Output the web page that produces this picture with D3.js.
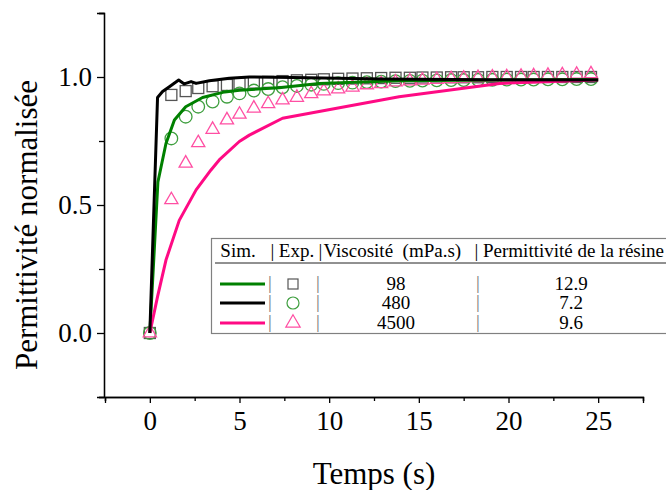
<!DOCTYPE html>
<html>
<head>
<meta charset="utf-8">
<script src="https://cdn.jsdelivr.net/npm/d3@7"></script>
<style>
  body { margin: 0; background: #fff; }
  svg text { font-family: "Liberation Serif", "Times New Roman", "DejaVu Serif", serif; }
</style>
</head>
<body>
<div id="chart"></div>
<script>
const width = 666, height = 490;
const serif = 'Liberation Serif, Times New Roman, DejaVu Serif, serif';

// experimental points (same time base for the three series)
const expTime = [0, 1.2, 2.0, 2.7, 3.5, 4.3, 5.0, 5.8, 6.6, 7.4, 8.2, 9.0, 9.7, 10.5, 11.3, 12.1, 12.9, 13.7, 14.5, 15.2, 16.0, 16.8, 17.5, 18.3, 19.1, 19.9, 20.7, 21.4, 22.2, 23.0, 23.8, 24.6];
const expSquare = [0, 0.93, 0.945, 0.957, 0.964, 0.969, 0.975, 0.978, 0.981, 0.984, 0.987, 0.989, 0.991, 0.993, 0.994, 0.995, 0.996, 0.997, 0.997, 0.998, 0.998, 0.999, 0.999, 0.999, 1.0, 1.0, 1.0, 1.0, 1.0, 1.0, 1.0, 1.0];
const expCircle = [0, 0.76, 0.845, 0.884, 0.904, 0.923, 0.936, 0.947, 0.953, 0.96, 0.965, 0.97, 0.973, 0.976, 0.978, 0.98, 0.982, 0.984, 0.985, 0.986, 0.987, 0.988, 0.988, 0.989, 0.989, 0.99, 0.99, 0.99, 0.991, 0.991, 0.992, 0.992];
const expTriangle = [0, 0.52, 0.663, 0.743, 0.795, 0.832, 0.854, 0.878, 0.895, 0.91, 0.92, 0.934, 0.945, 0.953, 0.96, 0.969, 0.973, 0.98, 0.984, 0.987, 0.99, 0.993, 0.995, 0.997, 0.999, 1.0, 1.002, 1.004, 1.006, 1.008, 1.01, 1.012];

// simulation curves
const simGreenT = [0, 0.45, 0.9, 1.37, 2.0, 2.94, 4.06, 5.0, 7.2, 9.45, 13.9, 19.5, 25];
const simGreenY = [0, 0.59, 0.74, 0.832, 0.884, 0.92, 0.94, 0.948, 0.958, 0.975, 0.985, 0.988, 0.99];
const simBlackT = [0, 0.43, 0.71, 1.09, 1.61, 1.92, 2.3, 2.58, 3.32, 4.43, 5.55, 8, 13, 19, 25];
const simBlackY = [0, 0.92, 0.943, 0.962, 0.988, 0.973, 0.982, 0.975, 0.985, 0.995, 1.0, 0.998, 0.992, 0.989, 0.988];
const simPinkT = [0, 0.43, 0.9, 1.64, 2.58, 3.41, 3.87, 4.99, 5.55, 7.4, 13.9, 19.5, 25];
const simPinkY = [0, 0.142, 0.285, 0.44, 0.559, 0.637, 0.676, 0.748, 0.773, 0.839, 0.923, 0.975, 0.988];

const xTicks = [0, 5, 10, 15, 20, 25];
const yTicks = [0, 0.5, 1.0];

// legend table
const legendHeader = ["Sim.", "|", "Exp.", "|", "Viscosité  (mPa.s)", "|", "Permittivité de la résine"];
const viscosity = ["98", "480", "4500"];
const permittivity = ["12.9", "7.2", "9.6"];

const green = "#008000", pink = "#ff0a84";
const lineColors = [green, "#000000", pink];
const markerColors = ["#555555", "#3f9f3f", "#ff4fa3"];

const svg = d3.select('#chart')
    .append('svg')
    .attr('width', width)
    .attr('height', height)
    .attr('font-family', serif);

const xScale = d3.scaleLinear().domain([-2.5, 27.5]).range([105, 643]);
const yScale = d3.scaleLinear().domain([-0.25, 1.25]).range([397, 13]);

// axes
const bottomAxis = d3.axisBottom(xScale).tickValues(xTicks).tickFormat(d3.format('d')).tickSizeOuter(0).tickSize(6).tickPadding(8);
const bottomMinor = d3.axisBottom(xScale).tickValues([-2.5, 2.5, 7.5, 12.5, 17.5, 22.5, 27.5]).tickFormat('').tickSizeOuter(0).tickSize(4);
const leftAxis = d3.axisLeft(yScale).tickValues(yTicks).tickFormat(d3.format('.1f')).tickSizeOuter(0).tickSize(7).tickPadding(5);
const leftMinor = d3.axisLeft(yScale).tickValues([-0.25, 0.25, 0.75, 1.25]).tickFormat('').tickSizeOuter(0).tickSize(5);

const gx = svg.append('g').attr('transform', `translate(0, ${yScale(-0.25)})`).call(bottomAxis);
svg.append('g').attr('transform', `translate(0, ${yScale(-0.25)})`).call(bottomMinor);
const gy = svg.append('g').attr('transform', `translate(${xScale(-2.5) - 1}, 0)`).call(leftAxis);
svg.append('g').attr('transform', `translate(${xScale(-2.5) - 1}, 0)`).call(leftMinor);

svg.selectAll('g').attr('font-family', serif);
svg.selectAll('.domain, .tick line').attr('stroke', '#000').attr('stroke-width', 1.3);
gx.selectAll('text').attr('font-size', 27).attr('fill', '#000');
gy.selectAll('text').attr('font-size', 27).attr('fill', '#000');

svg.append('text')
    .text('Temps (s)')
    .attr('text-anchor', 'middle')
    .attr('x', 374)
    .attr('y', 484)
    .attr('font-size', 31);

svg.append('text')
    .text('Permittivité normalisée')
    .attr('text-anchor', 'middle')
    .attr('transform', 'rotate(-90)')
    .attr('x', -225)
    .attr('y', 37)
    .attr('font-size', 31);

// experimental markers
const plot = svg.append('g');
const sqSize = 11;
plot.selectAll('rect.sq')
    .data(expTime.map((t, i) => [t, expSquare[i]]))
    .join('rect')
    .attr('x', d => xScale(d[0]) - sqSize / 2)
    .attr('y', d => yScale(d[1]) - sqSize / 2)
    .attr('width', sqSize).attr('height', sqSize)
    .attr('fill', 'none').attr('stroke', markerColors[0]).attr('stroke-width', 1.3);

plot.selectAll('circle.ci')
    .data(expTime.map((t, i) => [t, expCircle[i]]))
    .join('circle')
    .attr('cx', d => xScale(d[0]))
    .attr('cy', d => yScale(d[1]))
    .attr('r', 6.3)
    .attr('fill', 'none').attr('stroke', markerColors[1]).attr('stroke-width', 1.3);

const tri = d3.symbol().type(d3.symbolTriangle).size(75);
plot.selectAll('path.tr')
    .data(expTime.map((t, i) => [t, expTriangle[i]]))
    .join('path')
    .attr('d', tri)
    .attr('transform', d => `translate(${xScale(d[0])}, ${yScale(d[1])})`)
    .attr('fill', 'none').attr('stroke', markerColors[2]).attr('stroke-width', 1.3);

// simulation lines
const line = d3.line().x(d => xScale(d[0])).y(d => yScale(d[1]));
const sims = [
    [simGreenT, simGreenY, lineColors[0]],
    [simPinkT, simPinkY, lineColors[2]],
    [simBlackT, simBlackY, lineColors[1]]
];
sims.forEach(([ts, ys, c]) => {
    plot.append('path')
        .datum(ts.map((t, i) => [t, ys[i]]))
        .attr('d', line)
        .attr('fill', 'none')
        .attr('stroke', c)
        .attr('stroke-width', 3)
        .attr('stroke-linejoin', 'round');
});

// legend table
const lg = svg.append('g').attr('font-size', 19).attr('font-family', serif);
lg.append('rect')
    .attr('x', 211.5).attr('y', 238.5)
    .attr('width', 470).attr('height', 95)
    .attr('fill', '#fff').attr('stroke', '#808080').attr('stroke-width', 1.2);

const headX = [238, 272.5, 296.5, 320.5, 323.5, 476.5, 483];
const headAnchor = ['middle', 'middle', 'middle', 'middle', 'start', 'middle', 'start'];
lg.selectAll('text.head')
    .data(legendHeader)
    .join('text')
    .attr('x', (d, i) => headX[i])
    .attr('y', 257)
    .attr('text-anchor', (d, i) => headAnchor[i])
    .style('white-space', 'pre')
    .text(d => d);
lg.append('line')
    .attr('x1', 215).attr('x2', 666)
    .attr('y1', 263).attr('y2', 263)
    .attr('stroke', '#222').attr('stroke-width', 1);

const rowY = [283, 302, 322];
const symbols = [
    g => g.append('rect').attr('x', -5).attr('y', -5).attr('width', 10).attr('height', 10),
    g => g.append('circle').attr('r', 6),
    g => g.append('path').attr('d', d3.symbol().type(d3.symbolTriangle).size(90)())
];
rowY.forEach((y, i) => {
    lg.append('line')
        .attr('x1', 220).attr('x2', 265)
        .attr('y1', y + 1).attr('y2', y + 1)
        .attr('stroke', lineColors[i]).attr('stroke-width', 3);
    const m = lg.append('g').attr('transform', `translate(293, ${y + 1})`);
    symbols[i](m).attr('fill', 'none').attr('stroke', markerColors[i]).attr('stroke-width', 1.2);
    [270, 318, 478].forEach(x => {
        lg.append('text').attr('x', x).attr('y', y + 6).attr('text-anchor', 'middle')
            .attr('fill', '#777').text('|');
    });
    lg.append('text').attr('x', 396).attr('y', y + 7).attr('text-anchor', 'middle').text(viscosity[i]);
    lg.append('text').attr('x', 571).attr('y', y + 7).attr('text-anchor', 'middle').text(permittivity[i]);
});
</script>
</body>
</html>
